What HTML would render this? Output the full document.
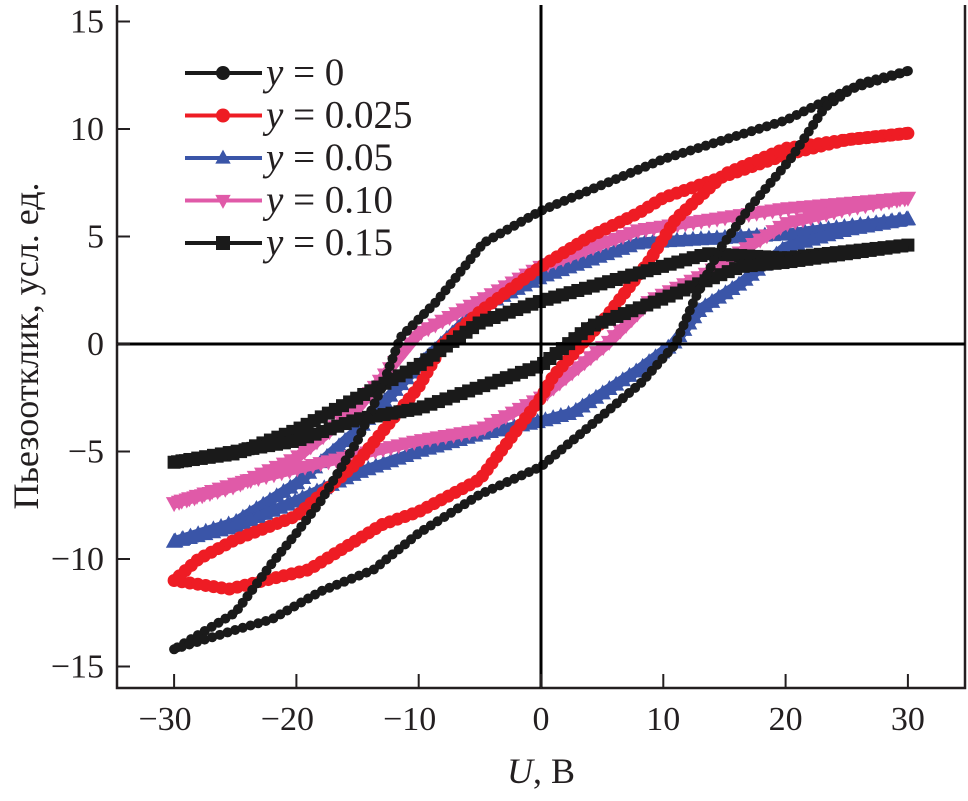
<!DOCTYPE html>
<html><head><meta charset="utf-8"><style>
html,body{margin:0;padding:0;background:#fff;}
svg text{font-family:"Liberation Serif","Times New Roman",serif;fill:#231f20;}
</style></head><body>
<svg id="chart" width="968" height="796" viewBox="0 0 968 796" font-family="Liberation Serif, serif">
<g id="marks"></g>
<g id="axes"></g>
</svg>
<script>
const xTickLabels=[-30,-20,-10,0,10,20,30];
const yTickLabels=[-15,-10,-5,0,5,10,15];
const seriesNames=["y = 0","y = 0.025","y = 0.05","y = 0.10","y = 0.15"];
const seriesColors=["#1a1a1a","#ee1c24","#3a55a8","#e05aa8","#1a1a1a"];
const seriesMarkers=["circle","circle","triangle","tridown","square"];
// upper branch U from 30 down to -30; lower branch U from -30 up to 30
const s0UpperU=[30,25,20,15,10,5,0,-4.7,-8.5,-11.5,-13,-15,-18,-20,-22,-25,-30];
const s0UpperV=[12.7,11.8,10.4,9.5,8.6,7.4,6.2,4.7,2,0.3,-2,-4.5,-7.3,-8.8,-10.2,-12.5,-14.2];
const s0LowerU=[-30,-25,-22,-18,-13.7,-10,-5,0,3.4,8.2,11,12.5,14.6,17,20.4,23.2,26,30];
const s0LowerV=[-14.2,-13.3,-12.8,-11.5,-10.5,-8.8,-7,-5.7,-4.1,-1.8,0,2,4.4,6.3,8.6,11,12.1,12.7];
const s1UpperU=[30,25,20,15,10,8,4,0,-5,-8,-10,-15,-20,-25,-28,-30];
const s1UpperV=[9.8,9.5,8.8,7.8,6.8,6.1,5,3.6,1.5,0,-2,-5.5,-8,-9.1,-10,-11];
const s1LowerU=[-30,-25.5,-19,-13,-10,-5,0,1,5.4,8.9,11,15,20,25,30];
const s1LowerV=[-11,-11.4,-10.5,-8.4,-7.8,-6.3,-2.5,-1.5,1.3,3.9,5.8,7.9,9.1,9.5,9.8];
const s2UpperU=[30,20,8,0,-5,-10,-15,-20,-25,-30];
const s2UpperV=[5.8,5.1,4.7,3.1,1.7,-1,-4,-6.5,-8.3,-9.2];
const s2LowerU=[-30,-25,-20,-15,-10,-5,0,2.6,8,10.8,13,16.3,20,25,30];
const s2LowerV=[-9.2,-8.5,-7.3,-6,-5,-4.2,-3.6,-3.2,-1.2,0,1.6,2.8,4.5,5.3,5.8];
const s3UpperU=[30,20,8,0,-5,-10,-15,-20,-25,-30];
const s3UpperV=[6.8,6.3,5.3,3.6,2,0.5,-3,-5.3,-6.6,-7.4];
const s3LowerU=[-30,-25,-20,-10,-5,0,5.4,8.9,13.6,20,25,30];
const s3LowerV=[-7.4,-6.5,-5.8,-4.5,-4,-2.5,0,2,3.3,5.6,6.3,6.8];
const s4UpperU=[30,20,13.6,8,0,-5,-10,-15,-20,-25,-30];
const s4UpperV=[4.6,4,4.2,3.3,2,1,-1,-2.5,-4,-5.1,-5.5];
const s4LowerU=[-30,-25,-20,-15,-10,-5,0,4,9.5,16.3,20,25,30];
const s4LowerV=[-5.5,-5,-4.5,-3.5,-3,-2,-1,0.8,2,3.6,3.8,4.2,4.6];

const NS="http://www.w3.org/2000/svg";
const L=117,R=965,T=5,B=688;
const sx=u=>541+u*12.23;
const sy=v=>344-v*21.5;
const widths=[6,9,11,11,11];
const msz=[5,6.5,7.5,7.5,6.5];
const marks=document.getElementById('marks'),axes=document.getElementById('axes');
function mk(tag,parent){const e=document.createElementNS(NS,tag);parent.appendChild(e);return e;}
function marker(parent,type,x,y,col,r){
  let e;
  if(type==="circle"){e=mk('circle',parent);e.setAttribute('cx',x);e.setAttribute('cy',y);e.setAttribute('r',r);}
  else if(type==="square"){e=mk('rect',parent);e.setAttribute('x',x-r);e.setAttribute('y',y-r);e.setAttribute('width',2*r);e.setAttribute('height',2*r);}
  else if(type==="triangle"){e=mk('polygon',parent);e.setAttribute('points',`${x},${y-r*1.2} ${x+r*1.1},${y+r*0.8} ${x-r*1.1},${y+r*0.8}`);}
  else {e=mk('polygon',parent);e.setAttribute('points',`${x},${y+r*1.2} ${x+r*1.1},${y-r*0.8} ${x-r*1.1},${y-r*0.8}`);}
  e.setAttribute('fill',col);
  
  
  return e;
}
const all=[[s0UpperU,s0UpperV,s0LowerU,s0LowerV],[s1UpperU,s1UpperV,s1LowerU,s1LowerV],[s2UpperU,s2UpperV,s2LowerU,s2LowerV],[s3UpperU,s3UpperV,s3LowerU,s3LowerV],[s4UpperU,s4UpperV,s4LowerU,s4LowerV]];
const order=[2,3,1,4,0];
order.forEach(i=>{
  const [uu,uv,lu,lv]=all[i];
  const g=mk('g',marks);
  
  
  [[uu,uv],[lu,lv]].forEach(([U,V])=>{
    const p=mk('path',g);
    p.setAttribute('d',U.map((u,k)=>(k?'L':'M')+sx(u)+','+sy(V[k])).join(''));
    p.setAttribute('fill','none');p.setAttribute('stroke',seriesColors[i]);p.setAttribute('stroke-width',widths[i]);p.setAttribute('stroke-linejoin','round');
    
    
    const len=p.getTotalLength();
    for(let d=0;d<=len;d+=8){const pt=p.getPointAtLength(d);marker(g,seriesMarkers[i],pt.x,pt.y,seriesColors[i],msz[i]);}
  });
});
function txt(parent,x,y,size,anchor){const t=mk('text',parent);t.setAttribute('x',x);t.setAttribute('y',y);t.setAttribute('font-size',size);t.setAttribute('font-family','Liberation Serif, serif');if(anchor)t.setAttribute('text-anchor',anchor);return t;}
const box=mk('path',axes);box.setAttribute('d',`M${L},${T}V${B}H${R}V${T}`);box.setAttribute('fill','none');box.setAttribute('stroke','#231f20');box.setAttribute('stroke-width',2.5);

const zx=mk('line',axes);zx.setAttribute('x1',L);zx.setAttribute('x2',R);zx.setAttribute('y1',sy(0));zx.setAttribute('y2',sy(0));zx.setAttribute('stroke','#000');zx.setAttribute('stroke-width',3);

const zy=mk('line',axes);zy.setAttribute('x1',sx(0));zy.setAttribute('x2',sx(0));zy.setAttribute('y1',T);zy.setAttribute('y2',B);zy.setAttribute('stroke','#000');zy.setAttribute('stroke-width',3);

xTickLabels.forEach(v=>{
  const t=mk('line',axes);t.setAttribute('x1',sx(v));t.setAttribute('x2',sx(v));t.setAttribute('y1',B);t.setAttribute('y2',B-14);t.setAttribute('stroke','#231f20');t.setAttribute('stroke-width',2);
  
  const tx=txt(axes,sx(v)-(v<0?9:0),730,34,'middle');
  tx.textContent=v<0?'\u2212'+(-v):String(v);
  
});
yTickLabels.forEach(v=>{
  const t=mk('line',axes);t.setAttribute('x1',L);t.setAttribute('x2',L+13);t.setAttribute('y1',sy(v));t.setAttribute('y2',sy(v));t.setAttribute('stroke','#231f20');t.setAttribute('stroke-width',2);
  
  const tx=txt(axes,104,sy(v)+11,34,'end');
  tx.textContent=v<0?'\u2212'+(-v):String(v);
  
});
seriesNames.forEach((n,i)=>{
  const y=73+i*42.5;
  const g=mk('g',axes);
  
  
  const ln=mk('line',g);ln.setAttribute('x1',185);ln.setAttribute('x2',262);ln.setAttribute('y1',y);ln.setAttribute('y2',y);ln.setAttribute('stroke',seriesColors[i]);ln.setAttribute('stroke-width',4);
  marker(g,seriesMarkers[i],223,y,seriesColors[i],7);
  const tx=txt(g,266,y+12,39);
  const it=mk('tspan',tx);it.setAttribute('font-style','italic');it.textContent='y';
  const rest=mk('tspan',tx);rest.textContent=' = '+n.slice(4);
});
const xt=txt(axes,541,783,36,'middle');
xt.innerHTML='<tspan font-style="italic">U</tspan>, В';

const yt=txt(axes,0,0,36,'middle');yt.setAttribute('transform','translate(38,346) rotate(-90)');
yt.textContent='Пьезоотклик, усл. ед.';

</script>
</body></html>
